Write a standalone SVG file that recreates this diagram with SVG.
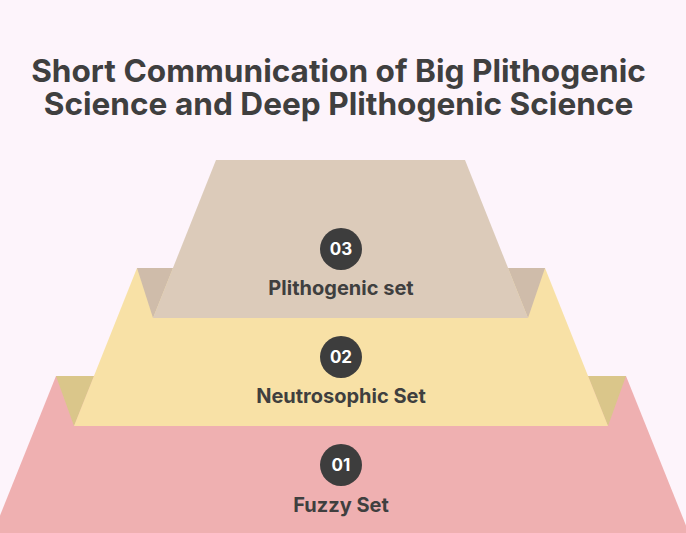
<svg xmlns="http://www.w3.org/2000/svg" width="686" height="533" viewBox="0 0 686 533">
<style>
.title{font-family:Inter,"Liberation Sans",sans-serif;font-weight:700;font-size:31.6px;fill:#3f3f3f;text-anchor:middle}
.lbl{font-family:Inter,"Liberation Sans",sans-serif;font-weight:700;font-size:20px;fill:#3f3f3f;text-anchor:middle}
.num{font-family:Inter,"Liberation Sans",sans-serif;font-weight:700;font-size:17px;fill:#ffffff;text-anchor:middle}
.badge{fill:#3d3d3d}
</style>
<rect width="686" height="533" fill="#fdf4fb"/>
<g id="title">
<text class="title" x="338.5" y="82">Short Communication of Big Plithogenic</text>
<text class="title" x="338.5" y="115">Science and Deep Plithogenic Science</text>
</g>
<g id="tier1">
<polygon points="56,376 626,376 689,533 -7,533" fill="#efb0b1"/>
<circle class="badge" cx="341" cy="465" r="21"/>
<text class="num" x="341" y="471">01</text>
<text class="lbl" x="341" y="512">Fuzzy Set</text>
</g>
<g id="tier2">
<polygon points="56,376 94,376 74,426" fill="#dac68a"/>
<polygon points="588,376 626,376 608,426" fill="#dac68a"/>
<polygon points="137,268 545,268 608,426 74,426" fill="#f8e1a6"/>
<circle class="badge" cx="341" cy="357" r="21"/>
<text class="num" x="341" y="363">02</text>
<text class="lbl" x="341" y="403">Neutrosophic Set</text>
</g>
<g id="tier3">
<polygon points="137,268 173,268 153,318" fill="#cfbcaa"/>
<polygon points="508,268 545,268 528,318" fill="#cfbcaa"/>
<polygon points="216,160 465,160 528,318 153,318" fill="#dccbba"/>
<circle class="badge" cx="341" cy="249" r="21"/>
<text class="num" x="341" y="255">03</text>
<text class="lbl" x="341" y="295">Plithogenic set</text>
</g>
<g id="connectors"/>
</svg>
